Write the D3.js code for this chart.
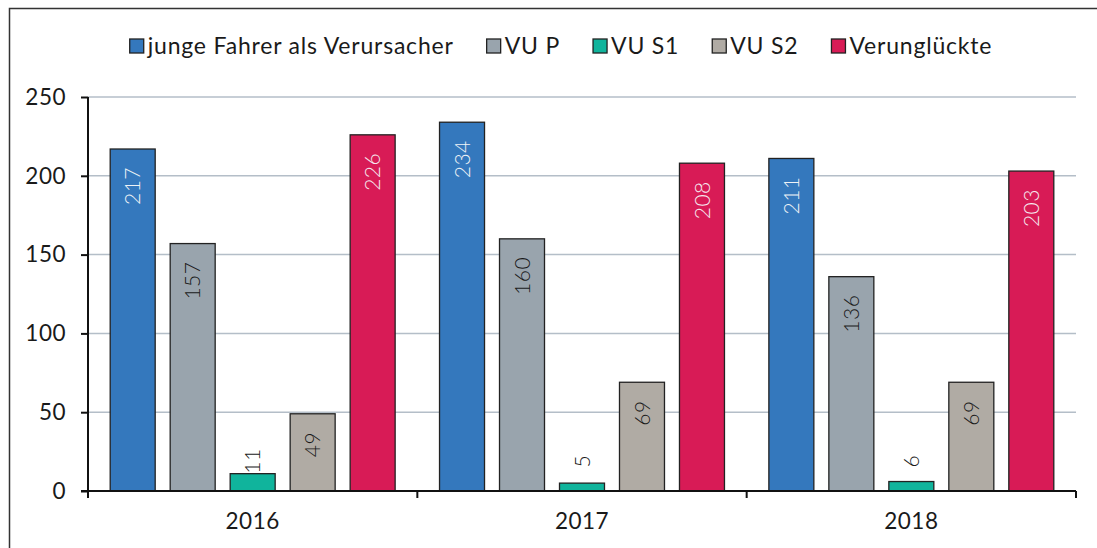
<!DOCTYPE html>
<html>
<head>
<meta charset="utf-8">
<script src="https://cdn.jsdelivr.net/npm/d3@7"></script>
<style>
  html, body { margin: 0; padding: 0; background: #fff; }
  svg { display: block; font-family: Lato, "Open Sans", sans-serif; }
</style>
</head>
<body>
<div id="chart"></div>
<script>
// data
const years = ["2016", "2017", "2018"];
const seriesNames = ["junge Fahrer als Verursacher", "VU P", "VU S1", "VU S2", "Verunglückte"];
const jungeFahrer = [217, 234, 211];
const vuP = [157, 160, 136];
const vuS1 = [11, 5, 6];
const vuS2 = [49, 69, 69];
const verunglueckte = [226, 208, 203];
const yTicks = [0, 50, 100, 150, 200, 250];

const seriesValues = [jungeFahrer, vuP, vuS1, vuS2, verunglueckte];
const colors = ["#3478bd", "#99a4ad", "#10b49c", "#b0aba4", "#d81b56"];
const labelColors = ["#eef2f6", "#1a1a1a", "#1a1a1a", "#1a1a1a", "#f6e8ee"];

const width = 1097, height = 548;
const margin = { top: 97, right: 21, bottom: 57, left: 88 };
const innerW = width - margin.left - margin.right;
const innerH = height - margin.top - margin.bottom;

const svg = d3.select("#chart")
  .append("svg")
  .attr("width", width)
  .attr("height", height);

// outer frame (only top and left edges visible in the picture)
svg.append("rect")
  .attr("x", 9.5).attr("y", 8.5)
  .attr("width", width + 20).attr("height", height + 20)
  .attr("fill", "none")
  .attr("stroke", "#333")
  .attr("stroke-width", 1.5);

const g = svg.append("g")
  .attr("transform", "translate(" + margin.left + "," + margin.top + ")");

const x0 = d3.scaleBand().domain(years).range([0, innerW]).padding(0);
const x1 = d3.scaleBand().domain(seriesNames).range([0, x0.bandwidth()])
  .paddingInner(0.25).paddingOuter(0.37);
const y = d3.scaleLinear().domain([0, 250]).range([innerH, 0]);

// gridlines
g.selectAll(".grid")
  .data(yTicks.filter(d => d > 0))
  .enter().append("line")
  .attr("x1", 0).attr("x2", innerW)
  .attr("y1", d => y(d)).attr("y2", d => y(d))
  .attr("stroke", "#b4bec8")
  .attr("stroke-width", 1.5);

// bars
const groups = g.selectAll(".year")
  .data(years)
  .enter().append("g")
  .attr("transform", d => "translate(" + x0(d) + ",0)");

const barData = (d, i) => seriesNames.map((s, k) => ({ s, k, v: seriesValues[k][i] }));

groups.each(function (yr, i) {
  const grp = d3.select(this);
  const data = barData(yr, i);
  grp.selectAll("rect")
    .data(data)
    .enter().append("rect")
    .attr("x", d => x1(d.s))
    .attr("y", d => y(d.v))
    .attr("width", x1.bandwidth())
    .attr("height", d => innerH - y(d.v))
    .attr("fill", d => colors[d.k])
    .attr("stroke", "#222")
    .attr("stroke-width", 1.3);

  grp.selectAll("text")
    .data(data)
    .enter().append("text")
    .attr("transform", d => {
      const cx = x1(d.s) + x1.bandwidth() / 2;
      const ty = d.v < 30 ? y(19) : y(d.v) + 18;
      return "translate(" + cx + "," + ty + ") rotate(-90)";
    })
    .attr("text-anchor", d => d.v < 30 ? "middle" : "end")
    .attr("dy", "0.36em")
    .attr("font-size", 21)
    .attr("font-weight", 300)
    .attr("letter-spacing", 0.5)
    .attr("fill", d => labelColors[d.k])
    .text(d => d.v);
});

// y axis
const yAxis = g.append("g")
  .call(d3.axisLeft(y).tickValues(yTicks).tickSize(7).tickSizeOuter(0).tickPadding(15));
yAxis.select(".domain").attr("stroke", "#111").attr("stroke-width", 2)
  .attr("d", "M0," + y(250) + "V" + (innerH + 7));
yAxis.selectAll(".tick line").attr("stroke", "#111").attr("stroke-width", 2);
yAxis.selectAll(".tick text").attr("font-size", 22.5).attr("fill", "#1a1a1a")
  .attr("font-family", "Lato, sans-serif").attr("letter-spacing", 0.5);

// x axis
const xAxis = g.append("g")
  .attr("transform", "translate(0," + innerH + ")")
  .call(d3.axisBottom(x0).tickSize(0).tickSizeOuter(0).tickPadding(22));
xAxis.select(".domain").attr("stroke", "#111").attr("stroke-width", 2)
  .attr("d", "M-7,0H" + innerW);
xAxis.selectAll(".tick text").attr("font-size", 22.5).attr("fill", "#1a1a1a")
  .attr("font-family", "Lato, sans-serif").attr("letter-spacing", 0.5);
xAxis.selectAll(".sep")
  .data(years.slice(1).map(d => x0(d)).concat([innerW]))
  .enter().append("line")
  .attr("x1", d => d).attr("x2", d => d)
  .attr("y1", 0).attr("y2", 7)
  .attr("stroke", "#111").attr("stroke-width", 2);

// legend
const legend = svg.append("g").attr("transform", "translate(0,46)");
const items = legend.selectAll(".item")
  .data(seriesNames)
  .enter().append("g");
items.append("rect")
  .attr("x", 0).attr("y", -7)
  .attr("width", 14).attr("height", 14)
  .attr("fill", (d, i) => colors[i])
  .attr("stroke", "#222").attr("stroke-width", 1.3);
items.append("text")
  .attr("x", 18).attr("dy", "0.35em")
  .attr("font-size", 23)
  .attr("letter-spacing", 0.8)
  .attr("fill", "#1a1a1a")
  .text(d => d);
let pos = 0;
const offsets = [];
items.each(function () {
  offsets.push(pos);
  pos += this.getBBox().width + 33;
});
const total = pos - 33;
const startX = 561 - total / 2;
items.attr("transform", (d, i) => "translate(" + (startX + offsets[i]) + ",0)");
</script>
</body>
</html>
